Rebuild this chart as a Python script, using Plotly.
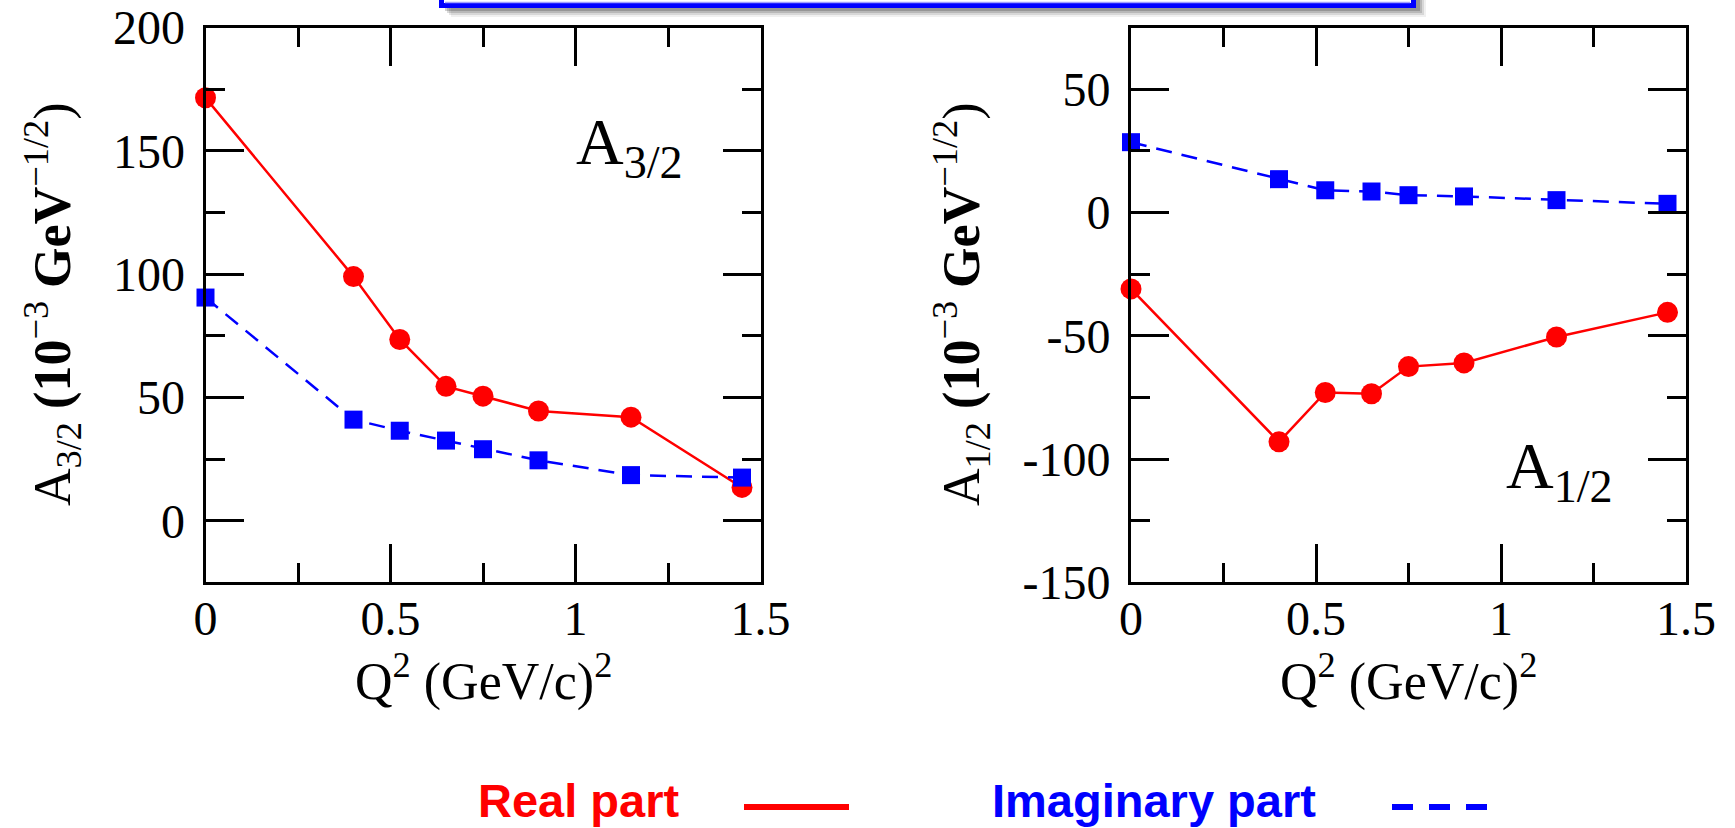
import plotly.graph_objects as go

W, H = 1735, 828
SERIF = "Liberation Serif, Times New Roman, serif"
SANS = "Liberation Sans, Arial, sans-serif"

# ---------------- data ----------------
q2 = [0, 0.4, 0.525, 0.65, 0.75, 0.9, 1.15, 1.45]
a32_real = [171.5, 99, 73.5, 54.5, 50.5, 44.5, 42, 13.5]
a32_imag = [90.5, 41, 36.5, 32.5, 29, 24.5, 18.5, 17.5]
a12_real = [-31, -93, -73, -73.5, -62.5, -61, -50.5, -40.5]
a12_imag = [28.5, 13.5, 9, 8.5, 7, 6.5, 5, 3.5]

x_tickvals = [0, 0.5, 1, 1.5]
x_ticktext = ["0", "0.5", "1", "1.5"]
y32_tickvals = [0, 50, 100, 150, 200]
y32_ticktext = ["0", "50", "100", "150", "200"]
y12_tickvals = [-150, -100, -50, 0, 50]
y12_ticktext = ["-150", "-100", "-50", "0", "50"]

RED = "#ff0000"
BLUE = "#0000ff"


def px(x):
    return x / W


def py(y):
    return 1 - y / H


fig = go.Figure()

for xa, ya, real, imag in [("x", "y", a32_real, a32_imag), ("x2", "y2", a12_real, a12_imag)]:
    fig.add_trace(go.Scatter(
        x=q2, y=real, xaxis=xa, yaxis=ya, mode="lines+markers", name="Real part",
        line=dict(color=RED, width=2.5),
        marker=dict(symbol="circle", size=21, color=RED),
        cliponaxis=False, showlegend=False))
    fig.add_trace(go.Scatter(
        x=q2, y=imag, xaxis=xa, yaxis=ya, mode="lines+markers", name="Imaginary part",
        line=dict(color=BLUE, width=2.5, dash="16px,10px"),
        marker=dict(symbol="square", size=18, color=BLUE),
        cliponaxis=False, showlegend=False))


def axis_style(minor_dtick, **kw):
    d = dict(showline=True, linecolor="black", linewidth=3, mirror="ticks",
             ticks="inside", ticklen=38, tickwidth=2.5, tickcolor="black",
             showgrid=False, zeroline=False, tickmode="array",
             tickfont=dict(family=SERIF, size=48, color="black"),
             minor=dict(ticks="inside", ticklen=19, tickwidth=2.5, tickcolor="black",
                        tickmode="linear", tick0=0, dtick=minor_dtick, showgrid=False),
             automargin=False, fixedrange=True)
    d.update(kw)
    return d


ydom = [py(582.4), py(27.5)]
fig.update_layout(
    width=W, height=H,
    margin=dict(l=0, r=0, t=0, b=0),
    paper_bgcolor="white", plot_bgcolor="white",
    xaxis=axis_style(0.25, domain=[px(205.5), px(760.5)], range=[0, 1.5], anchor="y",
                     tickvals=x_tickvals, ticktext=x_ticktext, ticklabelstandoff=-8),
    yaxis=axis_style(25, domain=ydom, range=[-25, 200], anchor="x",
                     tickvals=y32_tickvals, ticktext=y32_ticktext, ticklabelstandoff=8),
    xaxis2=axis_style(0.25, domain=[px(1131), px(1686)], range=[0, 1.5], anchor="y2",
                      tickvals=x_tickvals, ticktext=x_ticktext, ticklabelstandoff=-8),
    yaxis2=axis_style(25, domain=ydom, range=[-150, 75], anchor="x2",
                      tickvals=y12_tickvals, ticktext=y12_ticktext, ticklabelstandoff=8),
)

anns = []


def ann(text, x, y, size, family=SERIF, color="black", xanchor="center", yanchor="middle", angle=0):
    anns.append(dict(text=text, x=px(x), y=py(y), xref="paper", yref="paper",
                     xanchor=xanchor, yanchor=yanchor, showarrow=False, textangle=angle,
                     font=dict(family=family, size=size, color=color)))


# panel labels
ann("A<sub>3/2</sub>", 574, 146, 66, xanchor="left")
ann("A<sub>1/2</sub>", 1504, 470, 66, xanchor="left")
# axis titles
ann("Q<sup>2</sup> (GeV/c)<sup>2</sup>", 483, 678, 52)
ann("Q<sup>2</sup> (GeV/c)<sup>2</sup>", 1408.5, 678, 52)
ytitle = "A<sub>%s</sub> <b>(10</b><sup>\u22123</sup> <b>GeV</b><sup>\u22121/2</sup>)"
ann(ytitle % "3/2", 52, 304, 52, angle=-90)
ann(ytitle % "1/2", 961, 304, 52, angle=-90)
# legend
ann("<b>Real part</b>", 476, 800, 47, family=SANS, color=RED, xanchor="left")
ann("<b>Imaginary part</b>", 990, 800, 47, family=SANS, color=BLUE, xanchor="left")

shapes = []
# top box (cut off) with soft shadow
for off, op in [(10, 0.06), (8, 0.10), (6, 0.14), (4, 0.18)]:
    shapes.append(dict(type="rect", xref="paper", yref="paper",
                       x0=px(441 + off), x1=px(1416 + off), y0=py(-40), y1=py(7 + off),
                       line=dict(width=0), fillcolor="rgba(0,0,0,%s)" % op, layer="below"))
shapes.append(dict(type="rect", xref="paper", yref="paper",
                   x0=px(441.5), x1=px(1413.5), y0=py(-40), y1=py(5.5),
                   line=dict(width=5, color=BLUE), fillcolor="white", layer="below"))
shapes.append(dict(type="line", xref="paper", yref="paper",
                   x0=px(445), x1=px(1410), y0=py(2.5), y1=py(2.5),
                   line=dict(width=1.5, color="#a0a0ff"), layer="below"))
# legend samples
shapes.append(dict(type="line", xref="paper", yref="paper",
                   x0=px(744), x1=px(849), y0=py(807), y1=py(807),
                   line=dict(width=6, color=RED)))
shapes.append(dict(type="line", xref="paper", yref="paper",
                   x0=px(1392), x1=px(1487), y0=py(807), y1=py(807),
                   line=dict(width=6, color=BLUE, dash="21px,16px")))

fig.update_layout(annotations=anns, shapes=shapes)
fig.write_html("out.html")
